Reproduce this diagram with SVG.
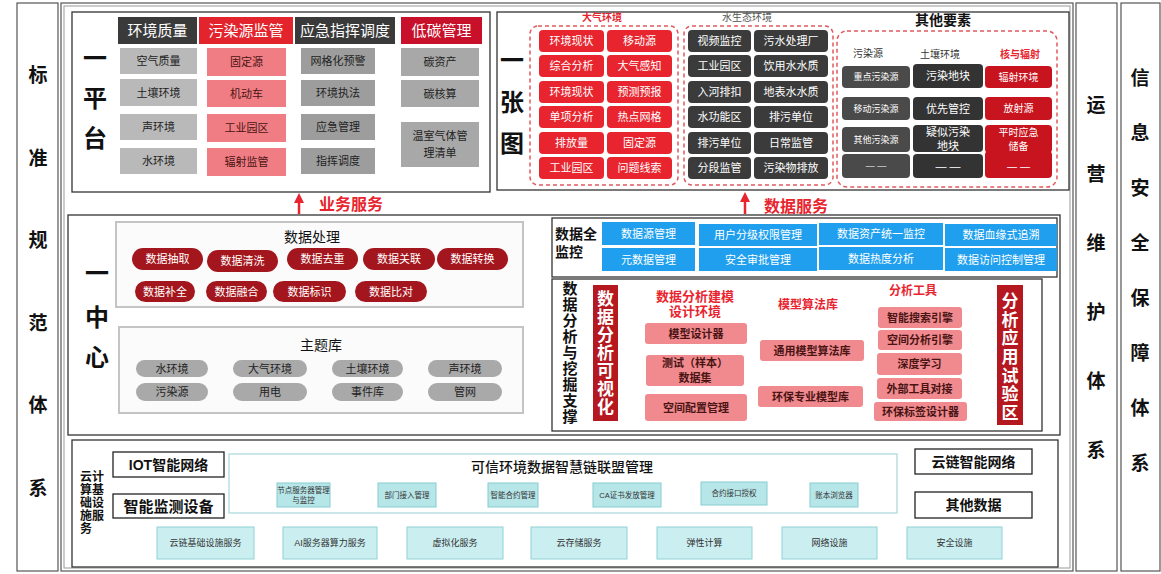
<svg xmlns="http://www.w3.org/2000/svg" width="1161" height="574" viewBox="0 0 1161 574">
<defs>
<style>
text{font-family:"Liberation Sans","Noto Sans CJK SC",sans-serif;text-anchor:middle;dominant-baseline:central;}
.frame{fill:#fff;stroke:#555;stroke-width:1.2;}
.frame2{fill:none;stroke:#999;stroke-width:1;}
.panel{fill:#fff;stroke:#333;stroke-width:1.3;}
.big{font-size:24px;font-weight:bold;fill:#111;}
.side{font-size:19px;font-weight:bold;fill:#111;}
.hd{font-size:15px;fill:#fff;}
.it{font-size:11px;fill:#222;}
.itw{font-size:11px;fill:#fff;}
.dash{fill:none;stroke:#e25a5e;stroke-width:1.5;stroke-dasharray:4 3;}
.red{fill:#e8252f;}
.dk{fill:#3b3b3b;}
.svc{font-size:16px;font-weight:bold;fill:#e8252f;}
.pill{fill:#a3161d;}
.gpill{fill:#a9a9a9;}
.blue{fill:#1f9fee;}
.pink{fill:#f08a8e;}
.pt{font-size:11px;font-weight:bold;fill:#4a1414;}
.rt{font-size:13px;font-weight:bold;fill:#e8252f;}
.teal{fill:#b7e6e8;stroke:#86cdd2;stroke-width:1;}
.teal2{fill:#cbeff1;stroke:#8fd2d6;stroke-width:1;}
.tt{font-size:7.5px;fill:#333;}
.tt2{font-size:9px;fill:#333;}
.bx{fill:#fff;stroke:#222;stroke-width:1.3;}
.bt{font-size:14px;font-weight:bold;fill:#111;}
</style>
<marker id="ah" viewBox="0 0 10 10" refX="5" refY="5" markerWidth="4" markerHeight="4" orient="auto-start-reverse"><path d="M0,0 L10,5 L0,10 z" fill="#e8252f"/></marker>
</defs>
<rect width="1161" height="574" fill="#fff"/>

<!-- side columns -->
<g id="col-standard">
<rect class="frame" x="17" y="3" width="41" height="568"/>
<text class="side" x="38"><tspan x="38" y="75">标</tspan><tspan x="38" y="158">准</tspan><tspan x="38" y="240">规</tspan><tspan x="38" y="323">范</tspan><tspan x="38" y="405">体</tspan><tspan x="38" y="488">系</tspan></text>
</g>
<g id="main-frame">
<rect class="frame" x="61" y="3" width="1012" height="568"/>
<rect class="frame2" x="64" y="6" width="1006" height="562"/>
</g>
<g id="col-ops">
<rect class="frame" x="1076" y="3" width="41" height="568"/>
<text class="side"><tspan x="1096" y="105">运</tspan><tspan x="1096" y="174">营</tspan><tspan x="1096" y="243">维</tspan><tspan x="1096" y="312">护</tspan><tspan x="1096" y="381">体</tspan><tspan x="1096" y="450">系</tspan></text>
</g>
<g id="col-security">
<rect class="frame" x="1121" y="3" width="39" height="568"/>
<text class="side"><tspan x="1140" y="78">信</tspan><tspan x="1140" y="133">息</tspan><tspan x="1140" y="188">安</tspan><tspan x="1140" y="243">全</tspan><tspan x="1140" y="298">保</tspan><tspan x="1140" y="353">障</tspan><tspan x="1140" y="408">体</tspan><tspan x="1140" y="463">系</tspan></text>
</g>

<!-- 一平台 -->
<g id="platform">
<rect class="panel" x="72" y="12" width="418" height="180"/>
<text class="big"><tspan x="95" y="58">一</tspan><tspan x="95" y="98">平</tspan><tspan x="95" y="138">台</tspan></text>
<rect x="118" y="17" width="79" height="27" fill="#3a3a3a"/><text class="hd" x="157.5" y="30.5">环境质量</text>
<rect x="199" y="17" width="94" height="27" fill="#e3242d"/><text class="hd" x="246" y="30.5">污染源监管</text>
<rect x="295" y="17" width="100" height="27" fill="#3a3a3a"/><text class="hd" x="345" y="30.5">应急指挥调度</text>
<rect x="401" y="17" width="81" height="27" fill="#c8102a"/><text class="hd" x="441.5" y="30.5">低碳管理</text>
<g fill="#b9b9b9">
<rect x="120" y="48" width="77" height="26"/><rect x="120" y="79" width="77" height="27"/><rect x="120" y="114" width="77" height="26"/><rect x="120" y="148" width="77" height="26"/>
</g>
<text class="it" x="158.5" y="61">空气质量</text><text class="it" x="158.5" y="92.5">土壤环境</text><text class="it" x="158.5" y="127">声环境</text><text class="it" x="158.5" y="161">水环境</text>
<g fill="#f07d83">
<rect x="207" y="48" width="79" height="28"/><rect x="207" y="80" width="79" height="27"/><rect x="207" y="114" width="79" height="28"/><rect x="207" y="148" width="79" height="28"/>
</g>
<text class="it" x="246.5" y="62" style="fill:#4a1414">固定源</text><text class="it" x="246.5" y="93.5" style="fill:#4a1414">机动车</text><text class="it" x="246.5" y="128" style="fill:#4a1414">工业园区</text><text class="it" x="246.5" y="162" style="fill:#4a1414">辐射监管</text>
<g fill="#9d9d9d">
<rect x="301" y="48" width="74" height="26"/><rect x="301" y="80" width="74" height="26"/><rect x="301" y="114" width="74" height="26"/><rect x="301" y="148" width="74" height="26"/>
</g>
<text class="it" x="338" y="61">网格化预警</text><text class="it" x="338" y="93">环境执法</text><text class="it" x="338" y="127">应急管理</text><text class="it" x="338" y="161">指挥调度</text>
<g fill="#a8a8a8">
<rect x="401" y="48" width="78" height="28"/><rect x="401" y="80" width="78" height="27"/><rect x="401" y="122" width="78" height="45"/>
</g>
<text class="it" x="440" y="62">碳资产</text><text class="it" x="440" y="93.5">碳核算</text><text class="it" x="440" y="136">温室气体管</text><text class="it" x="440" y="153">理清单</text>
</g>

<!-- 一张图 -->
<g id="map">
<rect class="panel" x="497" y="12" width="572" height="178"/>
<text class="big"><tspan x="512" y="60">一</tspan><tspan x="512" y="102">张</tspan><tspan x="512" y="143">图</tspan></text>
<text x="602" y="17" style="font-size:10px;font-weight:bold;fill:#e8252f">大气环境</text>
<rect class="dash" x="530" y="26" width="148" height="159" rx="8"/>
<g class="red">
<rect x="539" y="30" width="65" height="22" rx="4"/><rect x="607" y="30" width="65" height="22" rx="4"/>
<rect x="539" y="55" width="65" height="22" rx="4"/><rect x="607" y="55" width="65" height="22" rx="4"/>
<rect x="539" y="81" width="65" height="22" rx="4"/><rect x="607" y="81" width="65" height="22" rx="4"/>
<rect x="539" y="106" width="65" height="22" rx="4"/><rect x="607" y="106" width="65" height="22" rx="4"/>
<rect x="539" y="132" width="65" height="22" rx="4"/><rect x="607" y="132" width="65" height="22" rx="4"/>
<rect x="539" y="157" width="65" height="22" rx="4"/><rect x="607" y="157" width="65" height="22" rx="4"/>
</g>
<text class="itw" x="571.5" y="41">环境现状</text><text class="itw" x="639.5" y="41">移动源</text>
<text class="itw" x="571.5" y="66">综合分析</text><text class="itw" x="639.5" y="66">大气感知</text>
<text class="itw" x="571.5" y="92">环境现状</text><text class="itw" x="639.5" y="92">预测预报</text>
<text class="itw" x="571.5" y="117">单项分析</text><text class="itw" x="639.5" y="117">热点网格</text>
<text class="itw" x="571.5" y="143">排放量</text><text class="itw" x="639.5" y="143">固定源</text>
<text class="itw" x="571.5" y="168">工业园区</text><text class="itw" x="639.5" y="168">问题线索</text>
<text x="747" y="17" style="font-size:10px;fill:#555">水生态环境</text>
<rect class="dash" x="684" y="26" width="149" height="159" rx="8"/>
<g class="dk">
<rect x="688" y="30" width="63" height="22" rx="4"/><rect x="754" y="30" width="74" height="22" rx="4"/>
<rect x="688" y="55" width="63" height="22" rx="4"/><rect x="754" y="55" width="74" height="22" rx="4"/>
<rect x="688" y="81" width="63" height="22" rx="4"/><rect x="754" y="81" width="74" height="22" rx="4"/>
<rect x="688" y="106" width="63" height="22" rx="4"/><rect x="754" y="106" width="74" height="22" rx="4"/>
<rect x="688" y="132" width="63" height="22" rx="4"/><rect x="754" y="132" width="74" height="22" rx="4"/>
<rect x="688" y="157" width="63" height="22" rx="4"/><rect x="754" y="157" width="74" height="22" rx="4"/>
</g>
<text class="itw" x="719.5" y="41">视频监控</text><text class="itw" x="791" y="41">污水处理厂</text>
<text class="itw" x="719.5" y="66">工业园区</text><text class="itw" x="791" y="66">饮用水水质</text>
<text class="itw" x="719.5" y="92">入河排扣</text><text class="itw" x="791" y="92">地表水水质</text>
<text class="itw" x="719.5" y="117">水功能区</text><text class="itw" x="791" y="117">排污单位</text>
<text class="itw" x="719.5" y="143">排污单位</text><text class="itw" x="791" y="143">日常监管</text>
<text class="itw" x="719.5" y="168">分段监管</text><text class="itw" x="791" y="168">污染物排放</text>
<text x="943" y="20" style="font-size:14px;font-weight:bold;fill:#111">其他要素</text>
<rect class="dash" x="837" y="31" width="220" height="156" rx="10"/>
<text x="868" y="53" style="font-size:10px;fill:#333">污染源</text>
<text x="940" y="54" style="font-size:10px;fill:#333">土壤环境</text>
<text x="1020" y="54" style="font-size:10px;font-weight:bold;fill:#e8252f">核与辐射</text>
<g fill="#4a4a4a">
<rect x="842" y="66" width="68" height="22" rx="4"/><rect x="842" y="97" width="68" height="23" rx="4"/><rect x="842" y="127" width="68" height="25" rx="4"/><rect x="842" y="154" width="68" height="24" rx="4"/>
</g>
<g fill="#333">
<rect x="913" y="64" width="70" height="24" rx="4"/><rect x="913" y="97" width="70" height="23" rx="4"/><rect x="913" y="125" width="70" height="27" rx="4"/><rect x="913" y="154" width="70" height="24" rx="4"/>
</g>
<g fill="#c8141e">
<rect x="985" y="66" width="67" height="22" rx="4"/><rect x="985" y="97" width="67" height="23" rx="4"/><rect x="985" y="125" width="67" height="28" rx="4"/><rect x="985" y="151" width="67" height="27" rx="4"/>
</g>
<text x="876" y="77" style="font-size:9px;fill:#fff">重点污染源</text>
<text x="876" y="108.5" style="font-size:9px;fill:#fff">移动污染源</text>
<text x="876" y="139.5" style="font-size:9px;fill:#fff">其他污染源</text>
<text x="876" y="166" style="font-size:9px;fill:#fff">— —</text>
<text class="itw" x="948" y="76">污染地块</text>
<text class="itw" x="948" y="108.5">优先管控</text>
<text class="itw" x="948" y="131.5">疑似污染</text><text class="itw" x="948" y="145.5">地块</text>
<text class="itw" x="948" y="166">— —</text>
<text x="1018.5" y="77" style="font-size:10px;fill:#fff">辐射环境</text>
<text x="1018.5" y="108.5" style="font-size:10px;fill:#fff">放射源</text>
<text x="1018.5" y="132" style="font-size:10px;fill:#fff">平时应急</text><text x="1018.5" y="146" style="font-size:10px;fill:#fff">储备</text>
<text x="1018.5" y="166" style="font-size:10px;fill:#fff">— —</text>
</g>

<!-- connectors -->
<g id="connectors" stroke="#e8252f" stroke-width="2.5" fill="none">
<line x1="299" y1="214" x2="299" y2="198" marker-end="url(#ah)"/>
<line x1="745" y1="214" x2="745" y2="197" marker-end="url(#ah)"/>
<line x1="326" y1="308" x2="326" y2="321" marker-end="url(#ah)"/>
<line x1="167" y1="493" x2="167" y2="483" stroke-width="1.5" marker-end="url(#ah)"/>
<line x1="970" y1="492" x2="970" y2="478" stroke-width="1.5" marker-end="url(#ah)"/>
</g>
<text class="svc" x="351" y="204">业务服务</text>
<text class="svc" x="796" y="206">数据服务</text>

<!-- 一中心 -->
<g id="center">
<rect class="panel" x="68" y="215" width="992" height="220"/>
<text class="big"><tspan x="97" y="273">一</tspan><tspan x="97" y="317">中</tspan><tspan x="97" y="357">心</tspan></text>
<rect x="116" y="222" width="407" height="85" fill="#fbfbfb" stroke="#c4c4c4" stroke-width="2"/>
<text x="312" y="237" style="font-size:14px;fill:#111">数据处理</text>
<g class="pill">
<rect x="132" y="248" width="71" height="22" rx="11"/><rect x="207" y="250" width="71" height="22" rx="11"/><rect x="287" y="248" width="71" height="22" rx="11"/><rect x="363" y="248" width="72" height="22" rx="11"/><rect x="437" y="248" width="71" height="22" rx="11"/>
<rect x="135" y="281" width="60" height="21" rx="10.5"/><rect x="206" y="281" width="61" height="21" rx="10.5"/><rect x="273" y="281" width="73" height="21" rx="10.5"/><rect x="355" y="281" width="72" height="21" rx="10.5"/>
</g>
<text class="itw" x="167.5" y="259">数据抽取</text><text class="itw" x="242.5" y="261">数据清洗</text><text class="itw" x="322.5" y="259">数据去重</text><text class="itw" x="399" y="259">数据关联</text><text class="itw" x="472.5" y="259">数据转换</text>
<text class="itw" x="165" y="291.5">数据补全</text><text class="itw" x="236.5" y="291.5">数据融合</text><text class="itw" x="309.5" y="291.5">数据标识</text><text class="itw" x="391" y="291.5">数据比对</text>
<rect x="119" y="327" width="404" height="86" fill="#fbfbfb" stroke="#c4c4c4" stroke-width="2"/>
<text x="321" y="345" style="font-size:14px;fill:#111">主题库</text>
<g class="gpill">
<rect x="136" y="360" width="72" height="17" rx="8.5"/><rect x="233" y="360" width="74" height="17" rx="8.5"/><rect x="332" y="360" width="71" height="17" rx="8.5"/><rect x="428" y="360" width="74" height="17" rx="8.5"/>
<rect x="136" y="383" width="72" height="18" rx="9"/><rect x="233" y="383" width="74" height="18" rx="9"/><rect x="332" y="383" width="71" height="18" rx="9"/><rect x="428" y="383" width="74" height="18" rx="9"/>
</g>
<text class="it" x="172" y="368.5">水环境</text><text class="it" x="270" y="368.5">大气环境</text><text class="it" x="367.5" y="368.5">土壤环境</text><text class="it" x="465" y="368.5">声环境</text>
<text class="it" x="172" y="392">污染源</text><text class="it" x="270" y="392">用电</text><text class="it" x="367.5" y="392">事件库</text><text class="it" x="465" y="392">管网</text>
</g>

<!-- 数据全监控 -->
<g id="monitor">
<rect class="panel" x="552" y="218" width="505" height="59"/>
<text x="555" y="234" style="font-size:14px;font-weight:bold;fill:#111;text-anchor:start">数据全</text>
<text x="555" y="252" style="font-size:14px;font-weight:bold;fill:#111;text-anchor:start">监控</text>
<g class="blue">
<rect x="602" y="222" width="93" height="23"/><rect x="699" y="224" width="118" height="22"/><rect x="819" y="223" width="124" height="22"/><rect x="945" y="224" width="112" height="22"/>
<rect x="602" y="248" width="93" height="23"/><rect x="699" y="248" width="118" height="23"/><rect x="819" y="247" width="124" height="23"/><rect x="945" y="248" width="112" height="23"/>
</g>
<text class="itw" x="648.5" y="233.5">数据源管理</text><text class="itw" x="758" y="235">用户分级权限管理</text><text class="itw" x="881" y="234">数据资产统一监控</text><text class="itw" x="1001" y="235">数据血缘式追溯</text>
<text class="itw" x="648.5" y="259.5">元数据管理</text><text class="itw" x="758" y="259.5">安全审批管理</text><text class="itw" x="881" y="258.5">数据热度分析</text><text class="itw" x="1001" y="259.5">数据访问控制管理</text>
</g>

<!-- 数据分析与挖掘支撑 -->
<g id="analysis">
<rect class="panel" x="552" y="279" width="490" height="152"/>
<text style="font-size:15px;font-weight:bold;fill:#111"><tspan x="570" y="288">数</tspan><tspan x="570" y="304">据</tspan><tspan x="570" y="320">分</tspan><tspan x="570" y="336">析</tspan><tspan x="570" y="352">与</tspan><tspan x="570" y="368">挖</tspan><tspan x="570" y="384">掘</tspan><tspan x="570" y="400">支</tspan><tspan x="570" y="416">撑</tspan></text>
<rect x="593" y="285" width="25" height="136" fill="#b5181f"/>
<text style="font-size:17px;font-weight:bold;fill:#fff"><tspan x="605.5" y="299">数</tspan><tspan x="605.5" y="317">据</tspan><tspan x="605.5" y="335">分</tspan><tspan x="605.5" y="353">析</tspan><tspan x="605.5" y="371">可</tspan><tspan x="605.5" y="389">视</tspan><tspan x="605.5" y="407">化</tspan></text>
<rect x="997" y="285" width="26" height="140" fill="#b5181f"/>
<text style="font-size:17px;font-weight:bold;fill:#fff"><tspan x="1010" y="301">分</tspan><tspan x="1010" y="319.5">析</tspan><tspan x="1010" y="338">应</tspan><tspan x="1010" y="357">用</tspan><tspan x="1010" y="375.5">试</tspan><tspan x="1010" y="394">验</tspan><tspan x="1010" y="413">区</tspan></text>
<text class="rt" x="695" y="296">数据分析建模</text><text class="rt" x="695" y="311">设计环境</text>
<text class="rt" x="808" y="305" style="font-size:12px">模型算法库</text>
<text class="rt" x="913" y="291" style="font-size:12px">分析工具</text>
<g class="pink">
<rect x="645" y="323" width="102" height="21" rx="3"/><rect x="646" y="355" width="98" height="31" rx="3"/><rect x="645" y="394" width="102" height="27" rx="3"/>
<rect x="760" y="340" width="104" height="21" rx="3"/><rect x="758" y="386" width="105" height="21" rx="3"/>
<rect x="878" y="307" width="84" height="21" rx="3"/><rect x="878" y="330" width="84" height="20" rx="3"/><rect x="877" y="353" width="85" height="22" rx="3"/><rect x="877" y="378" width="85" height="21" rx="3"/><rect x="874" y="402" width="93" height="19" rx="3"/>
</g>
<text class="pt" x="696" y="333.5">模型设计器</text>
<text class="pt" x="695" y="363">测试（样本）</text><text class="pt" x="695" y="378">数据集</text>
<text class="pt" x="696" y="407.5">空间配置管理</text>
<text class="pt" x="812" y="350.5">通用模型算法库</text>
<text class="pt" x="810.5" y="396.5">环保专业模型库</text>
<text class="pt" x="920" y="317.5">智能搜索引擎</text>
<text class="pt" x="920" y="340">空间分析引擎</text>
<text class="pt" x="919.5" y="364">深度学习</text>
<text class="pt" x="919.5" y="388.5">外部工具对接</text>
<text class="pt" x="920.5" y="411.5">环保标签设计器</text>
</g>

<!-- 云计算基础设施服务 -->
<g id="infra">
<rect class="panel" x="72" y="440" width="986" height="127"/>
<text style="font-size:12px;font-weight:bold;fill:#111;text-anchor:start"><tspan x="80" y="477">云计</tspan><tspan x="80" y="490">算基</tspan><tspan x="80" y="503">础设</tspan><tspan x="80" y="516">施服</tspan><tspan x="80" y="529">务</tspan></text>
<rect class="bx" x="113" y="452" width="111" height="25"/><text class="bt" x="168.5" y="464.5">IOT智能网络</text>
<rect class="bx" x="113" y="494" width="111" height="24"/><text class="bt" x="168.5" y="506" style="font-size:15px">智能监测设备</text>
<rect x="229" y="454" width="668" height="59" fill="#fff" stroke="#a8d8dc" stroke-width="1.2"/>
<text x="562" y="467" style="font-size:14px;font-weight:500;fill:#111">可信环境数据智慧链联盟管理</text>
<rect class="teal" x="277" y="483" width="53" height="24"/><text class="tt" x="303.5" y="490">节点服务器管理</text><text class="tt" x="303.5" y="500">与监控</text>
<rect class="teal" x="378" y="483" width="58" height="24"/><text class="tt" x="407" y="495">部门接入管理</text>
<rect class="teal" x="488" y="483" width="50" height="24"/><text class="tt" x="513" y="495">智能合约管理</text>
<rect class="teal" x="593" y="483" width="68" height="24"/><text class="tt" x="627" y="495">CA证书发放管理</text>
<rect class="teal" x="701" y="482" width="66" height="23"/><text class="tt" x="734" y="493.5">合约接口授权</text>
<rect class="teal" x="810" y="483" width="48" height="24"/><text class="tt" x="834" y="495">账本浏览器</text>
<g class="teal2">
<rect x="157" y="527" width="97" height="32"/><rect x="283" y="527" width="94" height="32"/><rect x="407" y="527" width="96" height="32"/><rect x="531" y="527" width="96" height="32"/><rect x="657" y="527" width="95" height="32"/><rect x="782" y="527" width="95" height="32"/><rect x="907" y="527" width="95" height="32"/>
</g>
<text class="tt2" x="205.5" y="543">云链基础设施服务</text><text class="tt2" x="330" y="543">AI服务器算力服务</text><text class="tt2" x="455" y="543">虚拟化服务</text><text class="tt2" x="579" y="543">云存储服务</text><text class="tt2" x="704.5" y="543">弹性计算</text><text class="tt2" x="829.5" y="543">网络设施</text><text class="tt2" x="954.5" y="543">安全设施</text>
<rect class="bx" x="915" y="449" width="117" height="25"/><text class="bt" x="973.5" y="461.5">云链智能网络</text>
<rect class="bx" x="915" y="492" width="117" height="26"/><text class="bt" x="973.5" y="505">其他数据</text>
</g>
</svg>
